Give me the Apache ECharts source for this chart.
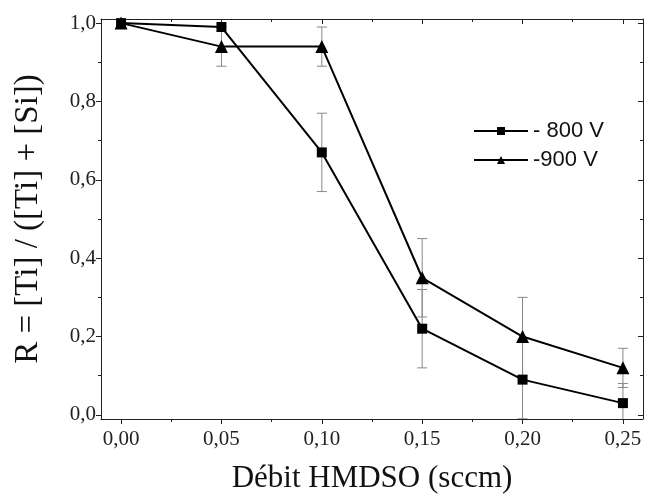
<!DOCTYPE html>
<html><head><meta charset="utf-8">
<script src="https://cdn.jsdelivr.net/npm/echarts@6/dist/echarts.min.js"></script>
<style>html,body{margin:0;padding:0;background:#fff}#c{width:645px;height:499px}</style>
</head><body><div id="c"></div>
<script>
const xValues = [0.00, 0.05, 0.10, 0.15, 0.20, 0.25];
const r800 = [1.00, 0.99, 0.67, 0.22, 0.09, 0.03];
const r900 = [1.00, 0.94, 0.94, 0.35, 0.20, 0.12];
const err800 = [0, 0, 0.10, 0.10, 0.10, 0.05];
const err900 = [0, 0.05, 0.05, 0.10, 0.10, 0.05];
const xMajor = [0, 0.05, 0.10, 0.15, 0.20, 0.25];
const xMinor = [0.025, 0.075, 0.125, 0.175, 0.225];
const yMajor = [0, 0.2, 0.4, 0.6, 0.8, 1.0];
const yMinor = [0.1, 0.3, 0.5, 0.7, 0.9];
const seriesNames = ['- 800 V', '-900 V'];

const chart = echarts.init(document.getElementById('c'), null, {renderer: 'canvas'});
const serif = 'Liberation Serif';
const XMIN = -0.01, XMAX = 0.26, YMIN = -0.0105, YMAX = 1.0105;
const lineC = '#222';

function xAxisDef(pos, vals, len, inside, labels, showLine) {
  return {
    type: 'value', position: pos, min: XMIN, max: XMAX,
    axisLine: {show: showLine, onZero: false, lineStyle: {color: lineC, width: 1}},
    axisTick: {show: true, inside: inside, length: len, customValues: vals, lineStyle: {color: lineC, width: 1}},
    axisLabel: labels ? {show: true, customValues: vals, fontFamily: serif, fontSize: 21, color: '#222', margin: 10,
      formatter: v => v.toFixed(2).replace('.', ',')} : {show: false},
    splitLine: {show: false}
  };
}
function yAxisDef(pos, vals, len, inside, labels, showLine) {
  return {
    type: 'value', position: pos, min: YMIN, max: YMAX,
    axisLine: {show: showLine, onZero: false, lineStyle: {color: lineC, width: 1}},
    axisTick: {show: true, inside: inside, length: len, customValues: vals, lineStyle: {color: lineC, width: 1}},
    axisLabel: labels ? {show: true, customValues: vals, fontFamily: serif, fontSize: 21, color: '#222', margin: 5,
      formatter: v => v.toFixed(1).replace('.', ',')} : {show: false},
    splitLine: {show: false}
  };
}

const xAxes = [
  Object.assign(xAxisDef('bottom', xMajor, 5, false, true, true), {
    name: 'Débit HMDSO (sccm)', nameLocation: 'middle', nameGap: 44,
    nameTextStyle: {fontFamily: serif, fontSize: 31, color: '#111'}}),
  xAxisDef('bottom', xMinor, 3, false, false, false),
  xAxisDef('top', xMajor, 5, true, false, true),
  xAxisDef('top', xMinor, 3, true, false, false)
];
const yAxes = [
  Object.assign(yAxisDef('left', yMajor, 5, false, true, true), {
    name: 'R = [Ti] / ([Ti] + [Si])', nameLocation: 'middle', nameGap: 56,
    nameTextStyle: {fontFamily: serif, fontSize: 33, color: '#111'}}),
  yAxisDef('left', yMinor, 3, false, false, false),
  yAxisDef('right', yMajor, 5, true, false, true),
  yAxisDef('right', yMinor, 3, true, false, false)
];

function errData(vals, errs) {
  return xValues.map((x, i) => [x, vals[i] - errs[i], vals[i] + errs[i]]).filter((d, i) => errs[i] > 0);
}
function errRender(params, api) {
  const x = api.value(0), lo = api.value(1), hi = api.value(2);
  const p1 = api.coord([x, hi]), p2 = api.coord([x, lo]);
  const hw = 5;
  const style = {stroke: '#888', lineWidth: 1};
  return {
    type: 'group',
    children: [
      {type: 'line', shape: {x1: p1[0], y1: p1[1], x2: p2[0], y2: p2[1]}, style},
      {type: 'line', shape: {x1: p1[0] - hw, y1: p1[1], x2: p1[0] + hw, y2: p1[1]}, style},
      {type: 'line', shape: {x1: p2[0] - hw, y1: p2[1], x2: p2[0] + hw, y2: p2[1]}, style}
    ]
  };
}

chart.setOption({
  animation: false,
  backgroundColor: '#fff',
  grid: {left: 101, top: 19, right: 2, bottom: 80, containLabel: false},
  xAxis: xAxes,
  yAxis: yAxes,
  legend: {
    data: seriesNames, orient: 'vertical', left: 473, top: 120, padding: 0,
    itemWidth: 54, itemHeight: 10, itemGap: 7,
    textStyle: {fontFamily: 'Liberation Sans', fontSize: 22, color: '#111'}
  },
  series: [
    {type: 'custom', name: 'err800', renderItem: errRender, data: errData(r800, err800), z: 1, clip: true,
      encode: {x: 0, y: [1, 2]}},
    {type: 'custom', name: 'err900', renderItem: errRender, data: errData(r900, err900), z: 1, clip: true,
      encode: {x: 0, y: [1, 2]}},
    {type: 'line', name: seriesNames[0], data: xValues.map((x, i) => [x, r800[i]]),
      symbol: 'rect', symbolSize: 10, showAllSymbol: true, z: 3,
      lineStyle: {color: '#000', width: 2}, itemStyle: {color: '#000'}},
    {type: 'line', name: seriesNames[1], data: xValues.map((x, i) => [x, r900[i]]),
      symbol: 'triangle', symbolSize: 13, showAllSymbol: true, z: 3,
      lineStyle: {color: '#000', width: 2}, itemStyle: {color: '#000'}}
  ]
});
</script></body></html>
